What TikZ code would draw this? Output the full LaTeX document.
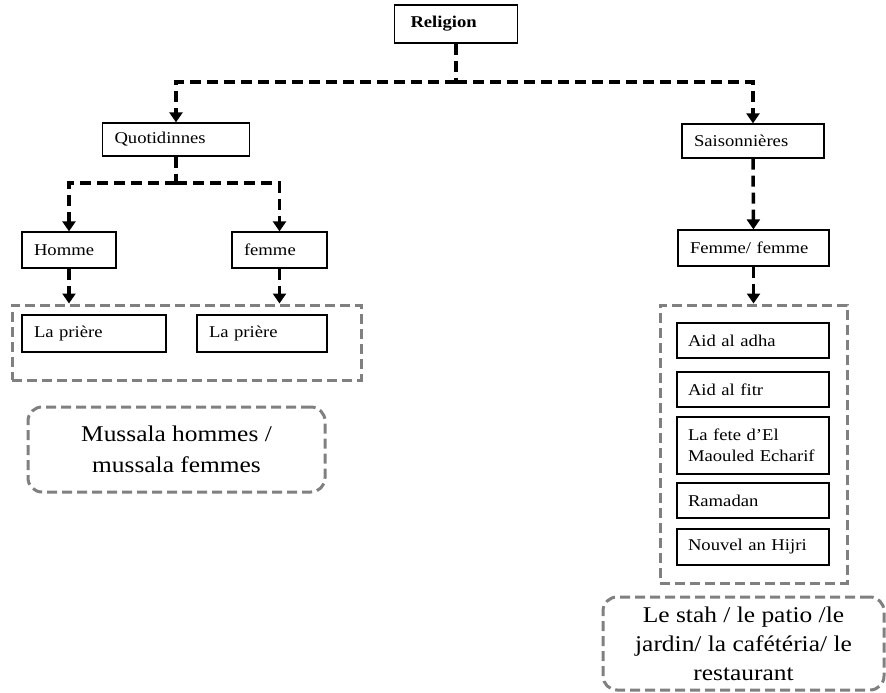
\documentclass[tikz,border=0pt]{standalone}
\usepackage{fontspec}
\setmainfont{Liberation Serif}[FakeStretch=1.13]
\usetikzlibrary{positioning, arrows.meta}

\begin{document}
\begin{tikzpicture}[
    x=1pt, y=-1pt,
    box/.style={draw, line width=1.3pt, inner xsep=12pt, inner ysep=0pt, align=left, font=\fontsize{16.5}{21}\selectfont},
    group/.style={draw=gray, line width=3pt, dash pattern=on 10pt off 5pt, inner sep=0pt},
    place/.style={group, rounded corners=14pt, align=center, font=\fontsize{22.5}{29}\selectfont},
    link/.style={line width=3.5pt, dash pattern=on 11pt off 6pt},
    arrow/.style={link, -{Triangle[length=10pt, width=13pt]}}
]
    \useasboundingbox (0,0) rectangle (886,693);

    % Root
    \node[box, font={\fontsize{16.5}{21}\selectfont\bfseries}, inner xsep=16pt, text width=91pt, minimum height=38pt] (rel) at (456,24) {Religion};

    % Two kinds
    \node[box, text width=123pt, minimum height=33pt] (quot) at (176,139.5) {Quotidinnes};
    \node[box, text width=118pt, minimum height=34pt] (sais) at (753,141) {Saisonnières};

    % Daily side
    \node[box, text width=70pt, minimum height=36pt] (hom) at (69,250) {Homme};
    \node[box, text width=71pt, minimum height=36pt] (fem) at (279.5,250) {femme};

    \node[group, minimum width=349pt, minimum height=75pt] (boxL) at (186.5,342.5) {};
    \node[box, text width=120pt, minimum height=37pt] (pr1) at (94,333.5) {La prière};
    \node[box, text width=106pt, minimum height=37pt] (pr2) at (262,333.5) {La prière};

    \node[place, minimum width=297pt, minimum height=85pt, font=\fontsize{22.5}{31}\selectfont] (mus) at (176.5,449.5) {Mussala hommes /\\mussala femmes};

    % Seasonal side
    \node[box, text width=127pt, minimum height=36pt] (fem2) at (753.5,248) {Femme/ femme};

    \node[group, minimum width=187pt, minimum height=278pt] (boxR) at (753.5,444) {};
    \node[box, inner xsep=11pt, text width=130pt, minimum height=35pt] (adha) at (753,340.5) {Aid al adha};
    \node[box, inner xsep=11pt, text width=130pt, minimum height=35pt] (fitr) at (753,389.5) {Aid al fitr};
    \node[box, inner xsep=11pt, text width=130pt, minimum height=57pt] (fete) at (753,445.5) {La fete d’El\\Maouled Echarif};
    \node[box, inner xsep=11pt, text width=130pt, minimum height=35pt] (ram) at (753,500.5) {Ramadan};
    \node[box, inner xsep=11pt, text width=130pt, minimum height=36pt] (hij) at (753,547) {Nouvel an Hijri};

    \node[place, minimum width=281pt, minimum height=93pt] (stah) at (743.5,643.5) {Le stah / le patio /le\\jardin/ la cafétéria/ le\\restaurant};

    % Connections
    \coordinate (j1) at (456,82);
    \draw[link] (rel) -- (j1);
    \draw[arrow] (j1) -| (quot);
    \draw[arrow] (j1) -| (sais);

    \coordinate (j2) at (176,183);
    \draw[link] (quot) -- (j2);
    \draw[arrow] (j2) -| (hom);
    \draw[arrow] (j2) -| (fem);

    \draw[arrow] (hom) -- (hom |- boxL.north);
    \draw[arrow] (fem) -- (fem |- boxL.north);

    \draw[arrow] (sais) -- (fem2);
    \draw[arrow] (fem2) -- (boxR);
\end{tikzpicture}
\end{document}
